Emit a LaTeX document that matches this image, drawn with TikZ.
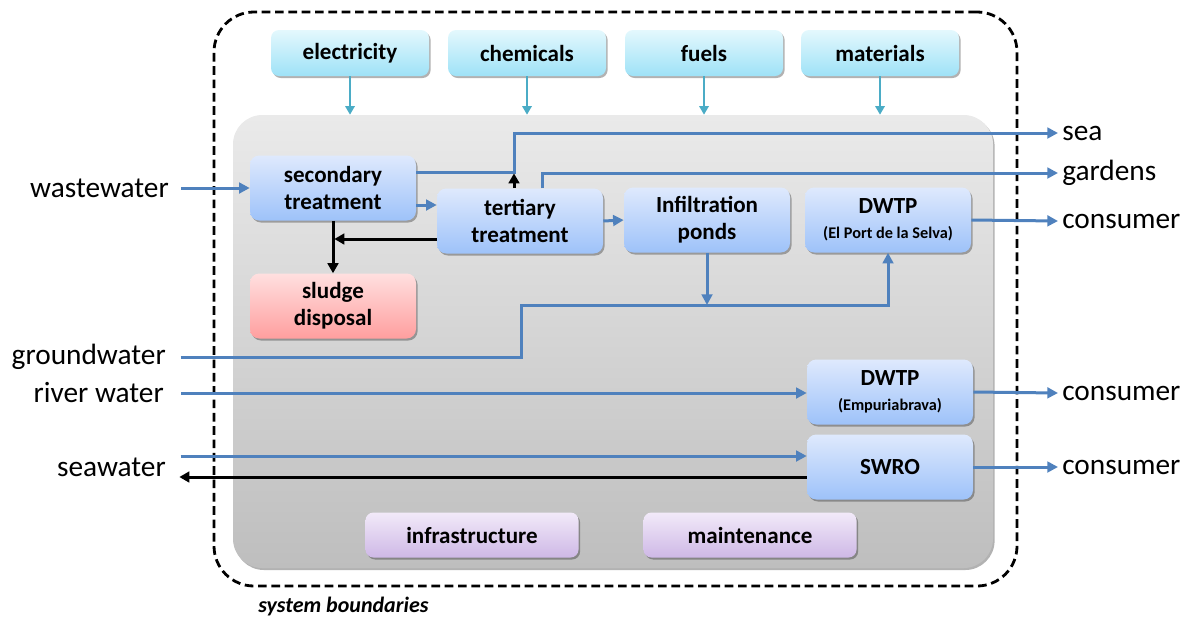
\documentclass[tikz,border=0pt]{standalone}
\usepackage{fontspec}
\setmainfont{Carlito}
\usetikzlibrary{arrows.meta,shadows,calc}
\definecolor{lineblue}{RGB}{79,129,189}
\definecolor{teal1}{RGB}{75,172,198}
\definecolor{bxtop}{RGB}{222,233,253}
\definecolor{bxbot}{RGB}{158,194,249}
\definecolor{cytop}{RGB}{228,248,253}
\definecolor{cybot}{RGB}{158,226,247}
\definecolor{sltop}{RGB}{255,224,224}
\definecolor{slbot}{RGB}{255,158,158}
\definecolor{putop}{RGB}{242,234,249}
\definecolor{pubot}{RGB}{206,184,230}
\definecolor{pntop}{RGB}{234,234,234}
\definecolor{pnbot}{RGB}{190,190,190}
\newcommand{\subtxt}{\fontsize{12.2}{14}\selectfont}
\tikzset{
  x={(0.75pt,0)}, y={(0,-0.75pt)},
  shad/.style={drop shadow={shadow xshift=1.2pt,shadow yshift=-1.5pt,opacity=0.3,fill=black}},
  boxtxt/.style={font=\fontsize{17.3}{20.5}\selectfont\bfseries, align=center, text=black},
  bluebox/.style={boxtxt, rounded corners=7pt, top color=bxtop, bottom color=bxbot, shad,
     minimum width=124.5pt, minimum height=48.75pt, inner sep=0pt},
  slbox/.style={bluebox, top color=sltop, bottom color=slbot},
  cybox/.style={boxtxt, rounded corners=6pt, top color=cytop, bottom color=cybot, shad,
     minimum width=118.5pt, minimum height=34.5pt, inner sep=0pt},
  pubox/.style={boxtxt, rounded corners=6pt, top color=putop, bottom color=pubot, shad,
     minimum width=159.75pt, minimum height=33.75pt, inner sep=0pt},
  outlbl/.style={font=\fontsize{22}{26}\selectfont, inner sep=3pt},
  blu/.style={draw=lineblue, line width=2.25pt, -{Triangle[length=8pt,width=8pt]}},
  blk/.style={draw=black, line width=2.25pt, -{Triangle[length=7.5pt,width=8pt]}},
  tl/.style={draw=teal1, line width=1.8pt, -{Triangle[length=6.5pt,width=7pt]}}
}
\begin{document}
\begin{tikzpicture}
\useasboundingbox (0,0) rectangle (1191,619);
% outer boundary
\node[draw=black, dash pattern=on 6.5pt off 3.5pt, line width=2.1pt, rounded corners=30pt,
  minimum width=602.25pt, minimum height=430.5pt, inner sep=0pt] (bound) at (615.5,299) {};
\node[font=\fontsize{16.5}{19}\selectfont\bfseries\itshape, anchor=west, inner sep=0pt] (sb) at (258,606) {system boundaries};
% panel
\node[rounded corners=22pt, top color=pntop, bottom color=pnbot, shad,
  minimum width=570pt, minimum height=339.75pt, inner sep=0pt] (panel) at (613,341.5) {};
% top boxes
\node[cybox] (el) at (350,53) {electricity};
\node[cybox] (ch) at (527,53) {chemicals};
\node[cybox] (fu) at (704,53) {fuels};
\node[cybox] (ma) at (880,53) {materials};
\foreach \n in {el,ch,fu,ma}{\draw[tl] (\n.south) -- (\n.south |- panel.north);}
% process boxes
\node[bluebox] (sec) at (333,188) {secondary\\treatment};
\node[bluebox] (ter) at (520,221) {tertiary\\treatment};
\node[bluebox] (inf) at (707,220) {Infiltration\\ponds};
\node[bluebox] (dw1) at (888,220) {DWTP\\[-2pt]{\subtxt (El Port de la Selva)}};
\node[slbox] (sl) at (333,306) {sludge\\disposal};
\node[bluebox] (dw2) at (890,392) {DWTP\\[-2pt]{\subtxt (Empuriabrava)}};
\node[bluebox] (swro) at (890,467) {SWRO};
\node[pubox] (infra) at (472,535) {infrastructure};
\node[pubox] (mnt) at (750,535) {maintenance};
% outside labels
\node[outlbl, anchor=east] (ww) at (173,188) {wastewater};
\node[outlbl, anchor=east] (gw) at (170,357) {groundwater};
\node[outlbl, anchor=east] (rw) at (168,393) {river water};
\node[outlbl, anchor=east] (sw) at (170,467) {seawater};
\node[outlbl, anchor=west] (sea) at (1058,133) {sea};
\node[outlbl, anchor=west] (gard) at (1058,173) {gardens};
\node[outlbl, anchor=west] (c1) at (1058,221) {consumer};
\node[outlbl, anchor=west] (c2) at (1058,393) {consumer};
\node[outlbl, anchor=west] (c3) at (1058,467) {consumer};
% bend coordinates
\coordinate (b1) at (514,172);
\coordinate (b2) at (542,173);
\coordinate (b4) at (333,239);
\coordinate (j) at (707,305);
\coordinate (g1) at (521,357);
\coordinate (wwin) at ([xshift=6pt]ww.east);
\coordinate (gwin) at ([xshift=8pt]gw.east);
\coordinate (rwin) at ([xshift=10pt]rw.east);
\coordinate (swin) at ([xshift=8pt,yshift=8.25pt]sw.east);
\coordinate (swout) at ([xshift=7pt,yshift=-7.5pt]sw.east);
\coordinate (s2t) at ([yshift=-12.75pt]sec.east);
\coordinate (t2s) at ([yshift=-13.5pt]ter.west);
\coordinate (swb) at ([yshift=-7.5pt]swro.west);
% flows
\draw[blu] (wwin) -- (sec.west);
\draw[blu] (sec.east |- b1) -- (b1) |- (sea.west);
\draw[blu] (ter.north -| b2) |- (gard.west);
\draw[blu] (s2t) -- (s2t -| ter.west);
\draw[blu] (ter.east) -- (inf.west);
\draw[blu] (inf.south) -- (j);
\draw[blu] (gwin) -- (g1) |- (j) -| (dw1.south);
\draw[blu] (dw1.east) -- (c1.west);
\draw[blu] (rwin) -- (rwin -| dw2.west);
\draw[blu] (dw2.east) -- (c2.west);
\draw[blu] (swin) -- (swin -| swro.west);
\draw[blu] (swro.east) -- (c3.west);
\draw[blk] (ter.north -| b1) -- ([yshift=-1pt]b1);
\draw[blk] (t2s) -- ([xshift=1pt]b4);
\draw[blk] (sec.south) -- (sl.north);
\draw[blk] (swb) -- (swout);
\end{tikzpicture}
\end{document}
